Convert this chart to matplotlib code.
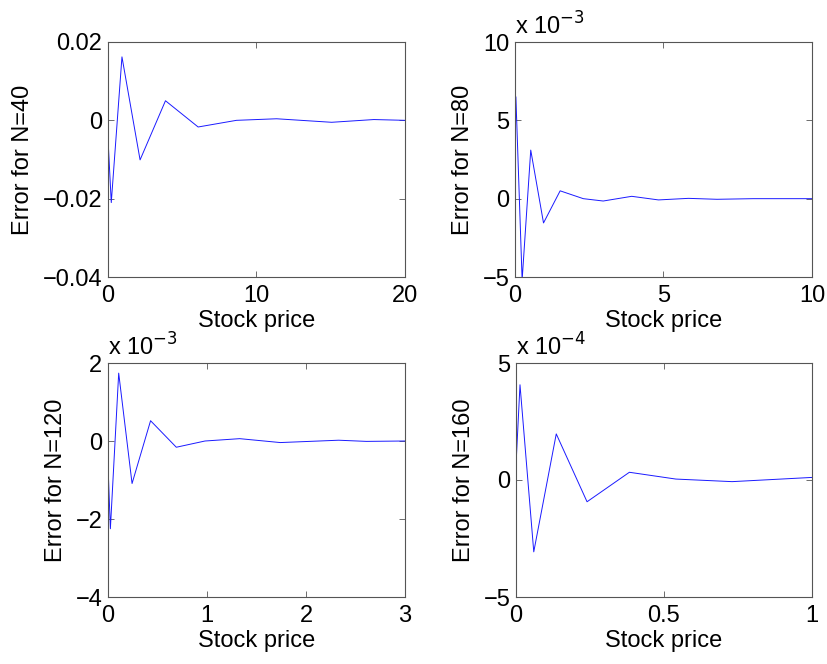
import matplotlib
matplotlib.use("Agg")
import matplotlib.pyplot as plt

plt.rcParams["font.family"] = ["Liberation Sans", "DejaVu Sans"]
plt.rcParams["font.size"] = 17

# ---- data ----
x40 = [0, 0.22, 0.94, 2.16, 3.87, 6.07, 8.65, 11.35, 15.06, 17.9, 20]
err40 = [-0.0047, -0.021, 0.0162, -0.0101, 0.0050, -0.0017, 0.0, 0.0004, -0.0005, 0.0002, 0.0]

x80 = [0, 0.03, 0.24, 0.53, 0.96, 1.52, 2.3, 2.97, 3.93, 4.83, 5.84, 6.8, 8.03, 10]
err80 = [2.6, 6.5, -5.2, 3.1, -1.55, 0.5, 0.0, -0.15, 0.15, -0.08, 0.02, -0.04, 0.0, 0.0]  # x 1e-3

x120 = [0, 0.024, 0.108, 0.243, 0.43, 0.69, 0.98, 1.33, 1.74, 2.33, 2.61, 3]
err120 = [-0.62, -2.25, 1.74, -1.09, 0.52, -0.16, 0.0, 0.06, -0.04, 0.02, -0.01, 0.0]  # x 1e-3

x160 = [0, 0.0135, 0.06, 0.136, 0.24, 0.383, 0.54, 0.73, 1]
err160 = [0.64, 4.07, -3.07, 1.97, -0.93, 0.33, 0.04, -0.07, 0.11]  # x 1e-4

panels = [
    dict(x=x40, y=err40, N=40, xlim=(0, 20), xt=[0, 10, 20],
         ylim=(-0.04, 0.02), yt=[-0.04, -0.02, 0, 0.02],
         ytl=["\u22120.04", "\u22120.02", "0", "0.02"], exp=None),
    dict(x=x80, y=err80, N=80, xlim=(0, 10), xt=[0, 5, 10],
         ylim=(-5, 10), yt=[-5, 0, 5, 10],
         ytl=["\u22125", "0", "5", "10"], exp=-3),
    dict(x=x120, y=err120, N=120, xlim=(0, 3), xt=[0, 1, 2, 3],
         ylim=(-4, 2), yt=[-4, -2, 0, 2],
         ytl=["\u22124", "\u22122", "0", "2"], exp=-3),
    dict(x=x160, y=err160, N=160, xlim=(0, 1), xt=[0, 0.5, 1],
         ylim=(-5, 5), yt=[-5, 0, 5],
         ytl=["\u22125", "0", "5"], exp=-4),
]

fig = plt.figure(figsize=(8.28, 6.64), dpi=100)
W, H = 828, 664
boxes = [(108, 42, 405, 277), (515, 42, 812, 277),
         (108, 363, 405, 597), (516, 363, 812, 597)]

for p, (l, t, r, b) in zip(panels, boxes):
    ax = fig.add_axes([l / W, 1 - b / H, (r - l) / W, (b - t) / H])
    ax.plot(p["x"], p["y"], color="#1a1aff", lw=0.7)
    ax.set_xlim(*p["xlim"])
    ax.set_ylim(*p["ylim"])
    ax.set_xticks(p["xt"])
    ax.set_xticklabels([f"{v:g}" for v in p["xt"]])
    ax.set_yticks(p["yt"])
    ax.set_yticklabels(p["ytl"])
    ax.tick_params(direction="in", length=4, width=0.6, color="#555555",
                   top=True, right=True, pad=4, labelsize=17)
    ax.tick_params(axis="x", pad=6)
    for s in ax.spines.values():
        s.set_color("#555555")
        s.set_linewidth(0.8)
    ax.set_xlabel("Stock price", fontsize=17, labelpad=2)
    ax.set_ylabel(f"Error for N={p['N']}", fontsize=17, labelpad=6)
    if p["exp"] is not None:
        ax.text(0.0, 1.01, f"x 10$^{{{p['exp']}}}$", transform=ax.transAxes,
                ha="left", va="bottom", fontsize=17)

fig.savefig("out.png", dpi=100, facecolor="white")
